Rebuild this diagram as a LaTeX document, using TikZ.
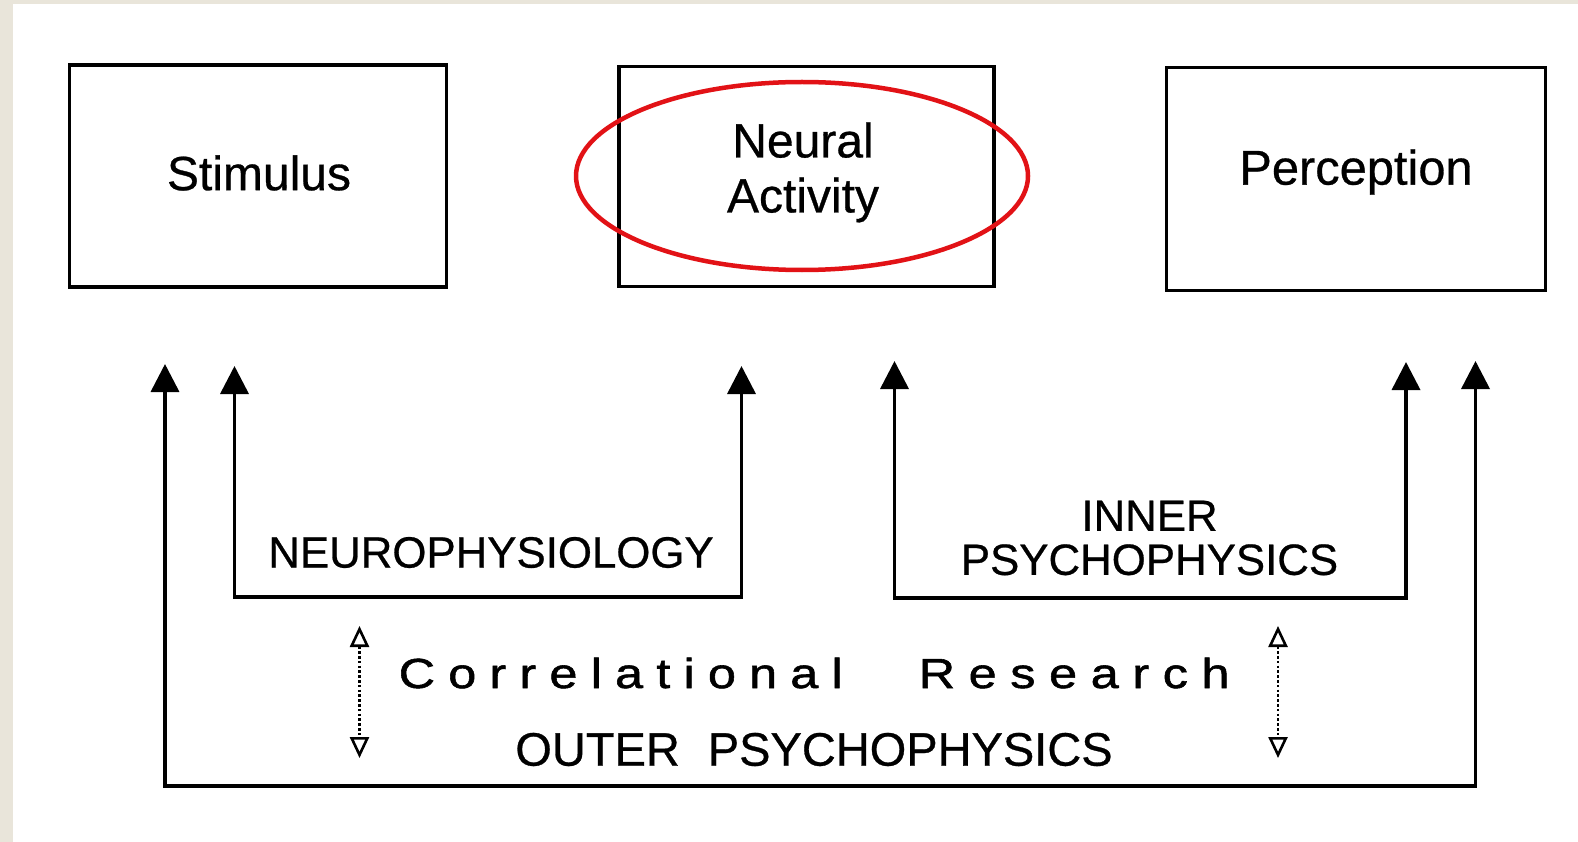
\documentclass[tikz,border=0pt]{standalone}
\usepackage{fontspec}
\setmainfont{Liberation Sans}[FakeBold=0.6]
\newfontfamily\widefont{Liberation Sans}[FakeBold=1.3,FakeStretch=1.2]
\usetikzlibrary{arrows.meta}
\definecolor{beige}{RGB}{233,229,218}
\definecolor{ringred}{RGB}{226,18,22}
\newlength{\lsp}
\def\spc#1{\ifx#1\relax\else#1\hspace{\lsp}\expandafter\spc\fi}
\tikzset{
  boxnode/.style={draw=black,line width=3.6pt,inner sep=0pt},
  boxtext/.style={inner sep=0pt,align=center,font=\fontsize{48}{55}\selectfont},
  lab/.style={inner sep=0pt,align=center,font=\fontsize{43.8}{44}\selectfont},
  widelab/.style={inner sep=0pt,anchor=base west,font=\widefont\fontsize{42}{44}\selectfont},
  arr/.style={line width=3.6pt,{Triangle[width=28pt,length=28pt]}-{Triangle[width=28pt,length=28pt]}},
  darr/.style={line width=2.6pt,dash pattern=on 2.6pt off 2.2pt,{Triangle[open,width=19pt,length=21pt,line width=2.6pt]}-{Triangle[open,width=19pt,length=21pt,line width=2.6pt]}}
}
\begin{document}
\begin{tikzpicture}[x=1pt,y=-1pt]
\useasboundingbox (0,0) rectangle (1578,842);
\fill[white] (0,0) rectangle (1578,842);
\fill[beige] (0,0) rectangle (1578,4);
\fill[beige] (0,0) rectangle (13,842);
% boxes
\node[boxnode,minimum width=377pt,minimum height=222pt] (stim) at (258,176) {};
\node[boxnode,minimum width=375pt,minimum height=220pt] (neur) at (806.5,176.5) {};
\node[boxnode,minimum width=379pt,minimum height=223pt] (perc) at (1356,179) {};
\node[boxtext] (stimt) at (259,173) {Stimulus};
\node[boxtext] (neurt) at (803,172.5) {Neural\\Activity};
\node[boxtext,font=\fontsize{48.8}{55}\selectfont] (perct) at (1356,172) {Perception};
% red ellipse
\draw[ringred,line width=4.5pt] (802,176) ellipse [x radius=226, y radius=94];
% coordinates
\coordinate (o1) at (165,364);
\coordinate (o2) at (1475.5,361);
\coordinate (ob) at (0,786);
\coordinate (n1) at (234.5,366);
\coordinate (n2) at (741.5,366);
\coordinate (nb) at (0,597);
\coordinate (i1) at (894.5,361);
\coordinate (i2) at (1406,362);
\coordinate (ib) at (0,598);
\coordinate (d1t) at (359.5,626);
\coordinate (d1b) at (359.5,758);
\coordinate (d2t) at (1278,626);
\coordinate (d2b) at (1278,758);
% arrows
\draw[arr] (o1) -- (o1 |- ob) -- (o2 |- ob) -- (o2);
\draw[arr] (n1) -- (n1 |- nb) -- (n2 |- nb) -- (n2);
\draw[arr] (i1) -- (i1 |- ib) -- (i2 |- ib) -- (i2);
\draw[darr] (d1t) -- (d1b);
\draw[darr] (d2t) -- (d2b);
% labels
\node[lab] (neuro) at (491,552.5) {NEUROPHYSIOLOGY};
\node[lab] (inner) at (1149.5,538) {INNER\\PSYCHOPHYSICS};
\node[lab,font=\fontsize{47}{48}\selectfont] (outer) at (814,749.5) {OUTER\hspace{28pt}PSYCHOPHYSICS};
\node[widelab] (corr) at (398.5,688) {\setlength{\lsp}{13.2pt}\spc Correlational\relax};
\node[widelab] (res) at (918.5,688) {\setlength{\lsp}{13.6pt}\spc Research\relax};
\end{tikzpicture}
\end{document}
